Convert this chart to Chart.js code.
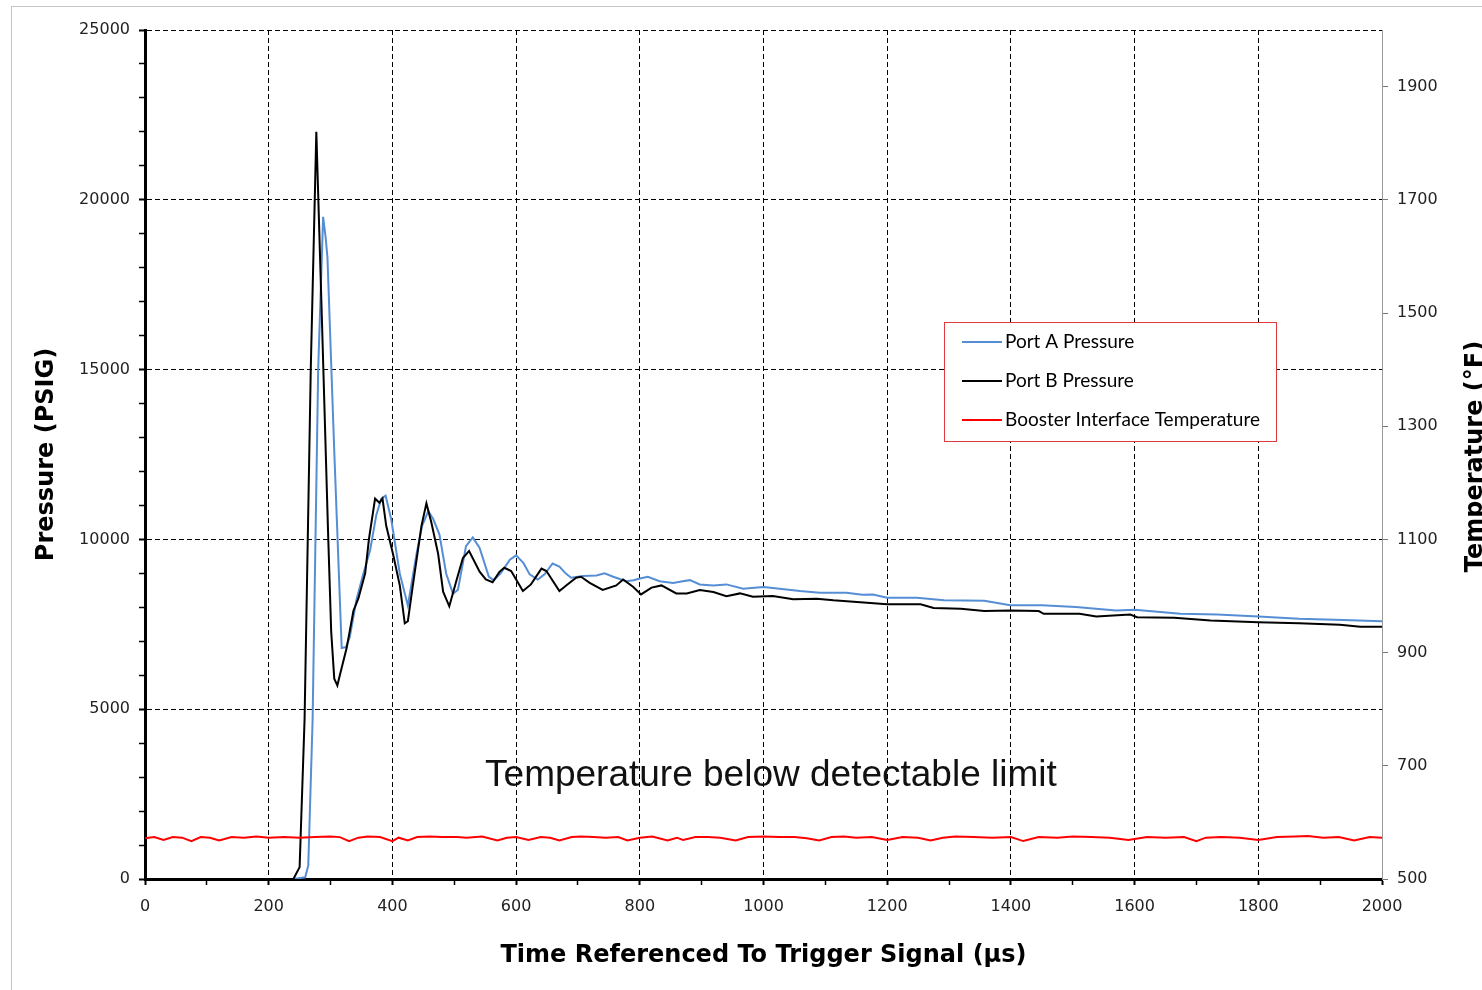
<!DOCTYPE html>
<html>
<head>
<meta charset="utf-8">
<script src="https://cdn.jsdelivr.net/npm/chart.js@4.4.1/dist/chart.umd.min.js"></script>
<style>
  body { margin: 0; background: #fff; }
  #wrap { position: relative; width: 1482px; height: 990px; }
</style>
</head>
<body>
<div id="wrap"><canvas id="chart" width="1482" height="990"></canvas></div>
<script>
// Port A pressure (PSIG) vs time (µs)
const timeA = [0, 60, 120, 180, 240, 259, 264, 271, 280, 288, 292, 295, 306, 318, 325, 331, 342, 353, 364, 374,
  382, 389, 398, 412, 425, 439, 448, 458, 466, 476, 487, 498, 506, 519, 530, 541, 556, 564, 575, 590,
  600, 612, 622, 635, 646, 659, 670, 680, 689, 708, 730, 743, 757, 778, 790, 800, 813, 832, 854, 867,
  881, 897, 919, 940, 967, 1000, 1026, 1059, 1091, 1134, 1160, 1177, 1200, 1248, 1292, 1357, 1399, 1450, 1505, 1570,
  1600, 1674, 1734, 1800, 1866, 1937, 2000];
const portA = [0, 0, 0, 0, 0, 50, 400, 4700, 15000, 19500, 18900, 18300, 12600, 6800, 6830, 7120, 8230, 8990, 9680, 10720,
  11200, 11290, 10600, 8990, 8050, 9570, 10400, 10830, 10600, 10150, 8990, 8400, 8520, 9800, 10060, 9750, 8900, 8800, 9000, 9400,
  9530, 9300, 8970, 8820, 8970, 9290, 9200, 9000, 8870, 8920, 8940, 9000, 8900, 8770, 8800, 8850, 8900, 8770, 8720, 8760,
  8800, 8675, 8645, 8675, 8550, 8600, 8550, 8480, 8430, 8430, 8370, 8380, 8280, 8280, 8210, 8190, 8060, 8060, 8010, 7910,
  7930, 7810, 7790, 7730, 7660, 7630, 7590];

// Port B pressure (PSIG) vs time (µs)
const timeB = [0, 60, 120, 180, 240, 250, 258, 268, 277, 286, 296, 301, 306, 311, 315, 326, 337, 345, 356, 362,
  372, 379, 384, 390, 401, 412, 420, 425, 433, 447, 455, 463, 474, 482, 492, 503, 514, 524, 541, 551,
  562, 573, 581, 592, 611, 624, 641, 649, 670, 681, 697, 705, 719, 740, 762, 773, 789, 802, 819, 835,
  859, 876, 897, 919, 940, 962, 983, 1015, 1048, 1086, 1113, 1151, 1200, 1254, 1275, 1319, 1357, 1399, 1445, 1453,
  1511, 1538, 1593, 1604, 1664, 1723, 1800, 1866, 1932, 1965, 2000];
const portB = [0, 0, 0, 0, 0, 350, 4700, 15000, 22000, 16500, 10200, 7300, 5900, 5700, 6000, 6800, 7900, 8260, 9000, 10000,
  11200, 11080, 11200, 10400, 9570, 8640, 7530, 7590, 8640, 10400, 11060, 10500, 9570, 8460, 8030, 8750, 9450, 9660, 9050, 8820,
  8740, 9045, 9165, 9070, 8480, 8675, 9140, 9070, 8480, 8645, 8870, 8900, 8720, 8510, 8645, 8820, 8605, 8380, 8580, 8645,
  8410, 8410, 8510, 8450, 8330, 8410, 8310, 8330, 8235, 8255, 8205, 8155, 8090, 8090, 7980, 7960, 7890, 7910, 7890, 7810,
  7810, 7730, 7790, 7710, 7690, 7610, 7560, 7530, 7490, 7430, 7430];

// Booster interface temperature (°F) vs time (µs)
const timeT = [0, 15, 30, 45, 60, 75, 90, 105, 120, 140, 160, 180, 200, 225, 250, 275, 300, 315, 330, 345,
  360, 380, 400, 410, 425, 440, 460, 480, 505, 520, 545, 570, 585, 600, 620, 640, 655, 670, 690, 705,
  725, 745, 765, 780, 800, 820, 845, 860, 870, 890, 910, 930, 955, 975, 1000, 1025, 1050, 1070, 1090, 1110,
  1130, 1150, 1175, 1200, 1225, 1250, 1270, 1290, 1310, 1340, 1370, 1400, 1420, 1445, 1475, 1500, 1530, 1560, 1590, 1620,
  1650, 1680, 1700, 1715, 1740, 1770, 1800, 1830, 1860, 1880, 1905, 1930, 1955, 1980, 2000];
const boosterTemp = [572, 574, 569, 574, 573, 567, 574, 573, 568, 574, 573, 575, 573, 574, 573, 574, 575, 574, 567, 573,
  575, 574, 567, 573, 568, 574, 575, 574, 574, 573, 575, 568, 573, 574, 569, 574, 573, 568, 574, 575,
  574, 573, 574, 568, 573, 575, 568, 573, 569, 574, 574, 573, 568, 574, 575, 574, 574, 572, 568, 574,
  575, 573, 574, 569, 574, 573, 568, 573, 575, 574, 573, 574, 567, 574, 573, 575, 574, 573, 569, 574,
  573, 574, 567, 573, 574, 573, 569, 574, 575, 576, 573, 574, 568, 574, 573];

const xLabels = [0, 200, 400, 600, 800, 1000, 1200, 1400, 1600, 1800, 2000];
const pressureLabels = [0, 5000, 10000, 15000, 20000, 25000];
const tempLabels = [500, 700, 900, 1100, 1300, 1500, 1700, 1900];

const seriesNames = ['Port A Pressure', 'Port B Pressure', 'Booster Interface Temperature'];
const seriesColors = ['#558ed5', '#000000', '#ff0000'];
const noteText = 'Temperature below detectable limit';
const noteAt = [1012, 3030]; // µs, PSIG

function pairs(ts, vs) {
  return ts.map((t, i) => ({ x: t, y: vs[i] }));
}

const dashGrid = [5, 3];

// right title, annotation, legend box and frame
const extras = {
  id: 'extras',
  afterDraw(chart) {
    const ctx = chart.ctx;
    const xs = chart.scales.x, ys = chart.scales.y;
    ctx.save();

    ctx.font = '37px "Liberation Sans", Arial, sans-serif';
    ctx.fillStyle = '#111';
    ctx.textAlign = 'center';
    ctx.textBaseline = 'middle';
    ctx.fillText(noteText, xs.getPixelForValue(noteAt[0]), ys.getPixelForValue(noteAt[1]));

    // right axis title reads bottom to top
    ctx.save();
    ctx.translate(1482, (chart.chartArea.top + chart.chartArea.bottom) / 2 + 2);
    ctx.rotate(-Math.PI / 2);
    ctx.font = 'bold 24px "DejaVu Sans", Verdana, sans-serif';
    ctx.fillStyle = '#000';
    ctx.textAlign = 'center';
    ctx.textBaseline = 'alphabetic';
    ctx.fillText('Temperature (°F)', 0, 0);
    ctx.restore();

    // legend
    const lx = 944, ly = 322, lw = 332, lh = 119;
    ctx.fillStyle = '#fff';
    ctx.fillRect(lx, ly, lw, lh);
    ctx.strokeStyle = '#e03a40';
    ctx.lineWidth = 1;
    ctx.strokeRect(lx + 0.5, ly + 0.5, lw, lh);
    ctx.font = '19px Lato, "Open Sans", sans-serif';
    ctx.textAlign = 'left';
    ctx.textBaseline = 'middle';
    seriesNames.forEach((name, i) => {
      const yy = ly + 20 + i * 39;
      ctx.strokeStyle = seriesColors[i];
      ctx.lineWidth = 2;
      ctx.beginPath();
      ctx.moveTo(lx + 18, yy);
      ctx.lineTo(lx + 58, yy);
      ctx.stroke();
      ctx.fillStyle = '#000';
      ctx.fillText(name, lx + 61, yy);
    });

    // outer frame
    ctx.strokeStyle = '#c4c4c4';
    ctx.lineWidth = 1;
    ctx.strokeRect(11.5, 6.5, 1500, 1000);
    ctx.restore();
  }
};

const tickFont = { family: '"DejaVu Sans", Verdana, sans-serif', size: 16 };

new Chart(document.getElementById('chart').getContext('2d'), {
  type: 'line',
  data: {
    datasets: [
      { label: seriesNames[0], data: pairs(timeA, portA), borderColor: seriesColors[0], borderWidth: 2, yAxisID: 'y', order: 3 },
      { label: seriesNames[1], data: pairs(timeB, portB), borderColor: seriesColors[1], borderWidth: 2, yAxisID: 'y', order: 2 },
      { label: seriesNames[2], data: pairs(timeT, boosterTemp), borderColor: seriesColors[2], borderWidth: 2, yAxisID: 'yT', order: 1 }
    ]
  },
  options: {
    responsive: false,
    animation: false,
    elements: { point: { radius: 0 }, line: { tension: 0 } },
    layout: { padding: { top: 30, left: 0, right: 0, bottom: 0 } },
    plugins: { legend: { display: false }, tooltip: { enabled: false } },
    scales: {
      x: {
        type: 'linear', min: 0, max: 2000,
        afterFit(s) { s.height = 111; },
        ticks: {
          stepSize: 100, autoSkip: false, maxRotation: 0, padding: 12,
          font: tickFont, color: '#222',
          callback: v => xLabels.includes(v) ? String(v) : ''
        },
        grid: {
          color: c => (xLabels.includes(c.tick.value) && c.tick.value !== 2000 && c.tick.value !== 0) ? '#000' : 'rgba(0,0,0,0)',
          tickColor: '#000', tickLength: 6, lineWidth: 1,
          tickWidth: c => xLabels.includes(c.tick.value) ? 2 : 1.5
        },
        border: { color: '#000', width: 3, dash: dashGrid },
        title: {
          display: true, text: 'Time Referenced To Trigger Signal (µs)', color: '#000',
          font: { family: '"DejaVu Sans", Verdana, sans-serif', size: 24, weight: 'bold' },
          padding: { top: 0, bottom: 20 }
        }
      },
      y: {
        type: 'linear', position: 'left', min: 0, max: 25000,
        afterFit(s) { s.width = 145; },
        ticks: {
          stepSize: 1000, autoSkip: false, padding: 9,
          font: tickFont, color: '#222',
          callback: v => pressureLabels.includes(v) ? String(v) : ''
        },
        grid: {
          color: c => (pressureLabels.includes(c.tick.value) && c.tick.value !== 0) ? '#000' : 'rgba(0,0,0,0)',
          tickColor: '#000', tickLength: 6, lineWidth: 1,
          tickWidth: c => pressureLabels.includes(c.tick.value) ? 2 : 1.5
        },
        border: { color: '#000', width: 3, dash: dashGrid },
        title: {
          display: true, text: 'Pressure (PSIG)', color: '#000',
          font: { family: '"DejaVu Sans", Verdana, sans-serif', size: 24, weight: 'bold' },
          padding: { top: 32, bottom: 0 }
        }
      },
      yT: {
        type: 'linear', position: 'right', min: 500, max: 2000,
        afterFit(s) { s.width = 100; },
        afterBuildTicks(s) { s.ticks = tempLabels.map(v => ({ value: v })); },
        ticks: { padding: 9, font: tickFont, color: '#222', callback: v => String(v) },
        grid: { drawOnChartArea: false, tickColor: '#777', tickLength: 6 },
        border: { color: '#999', width: 1 }
      }
    }
  },
  plugins: [extras]
});
</script>
</body>
</html>
